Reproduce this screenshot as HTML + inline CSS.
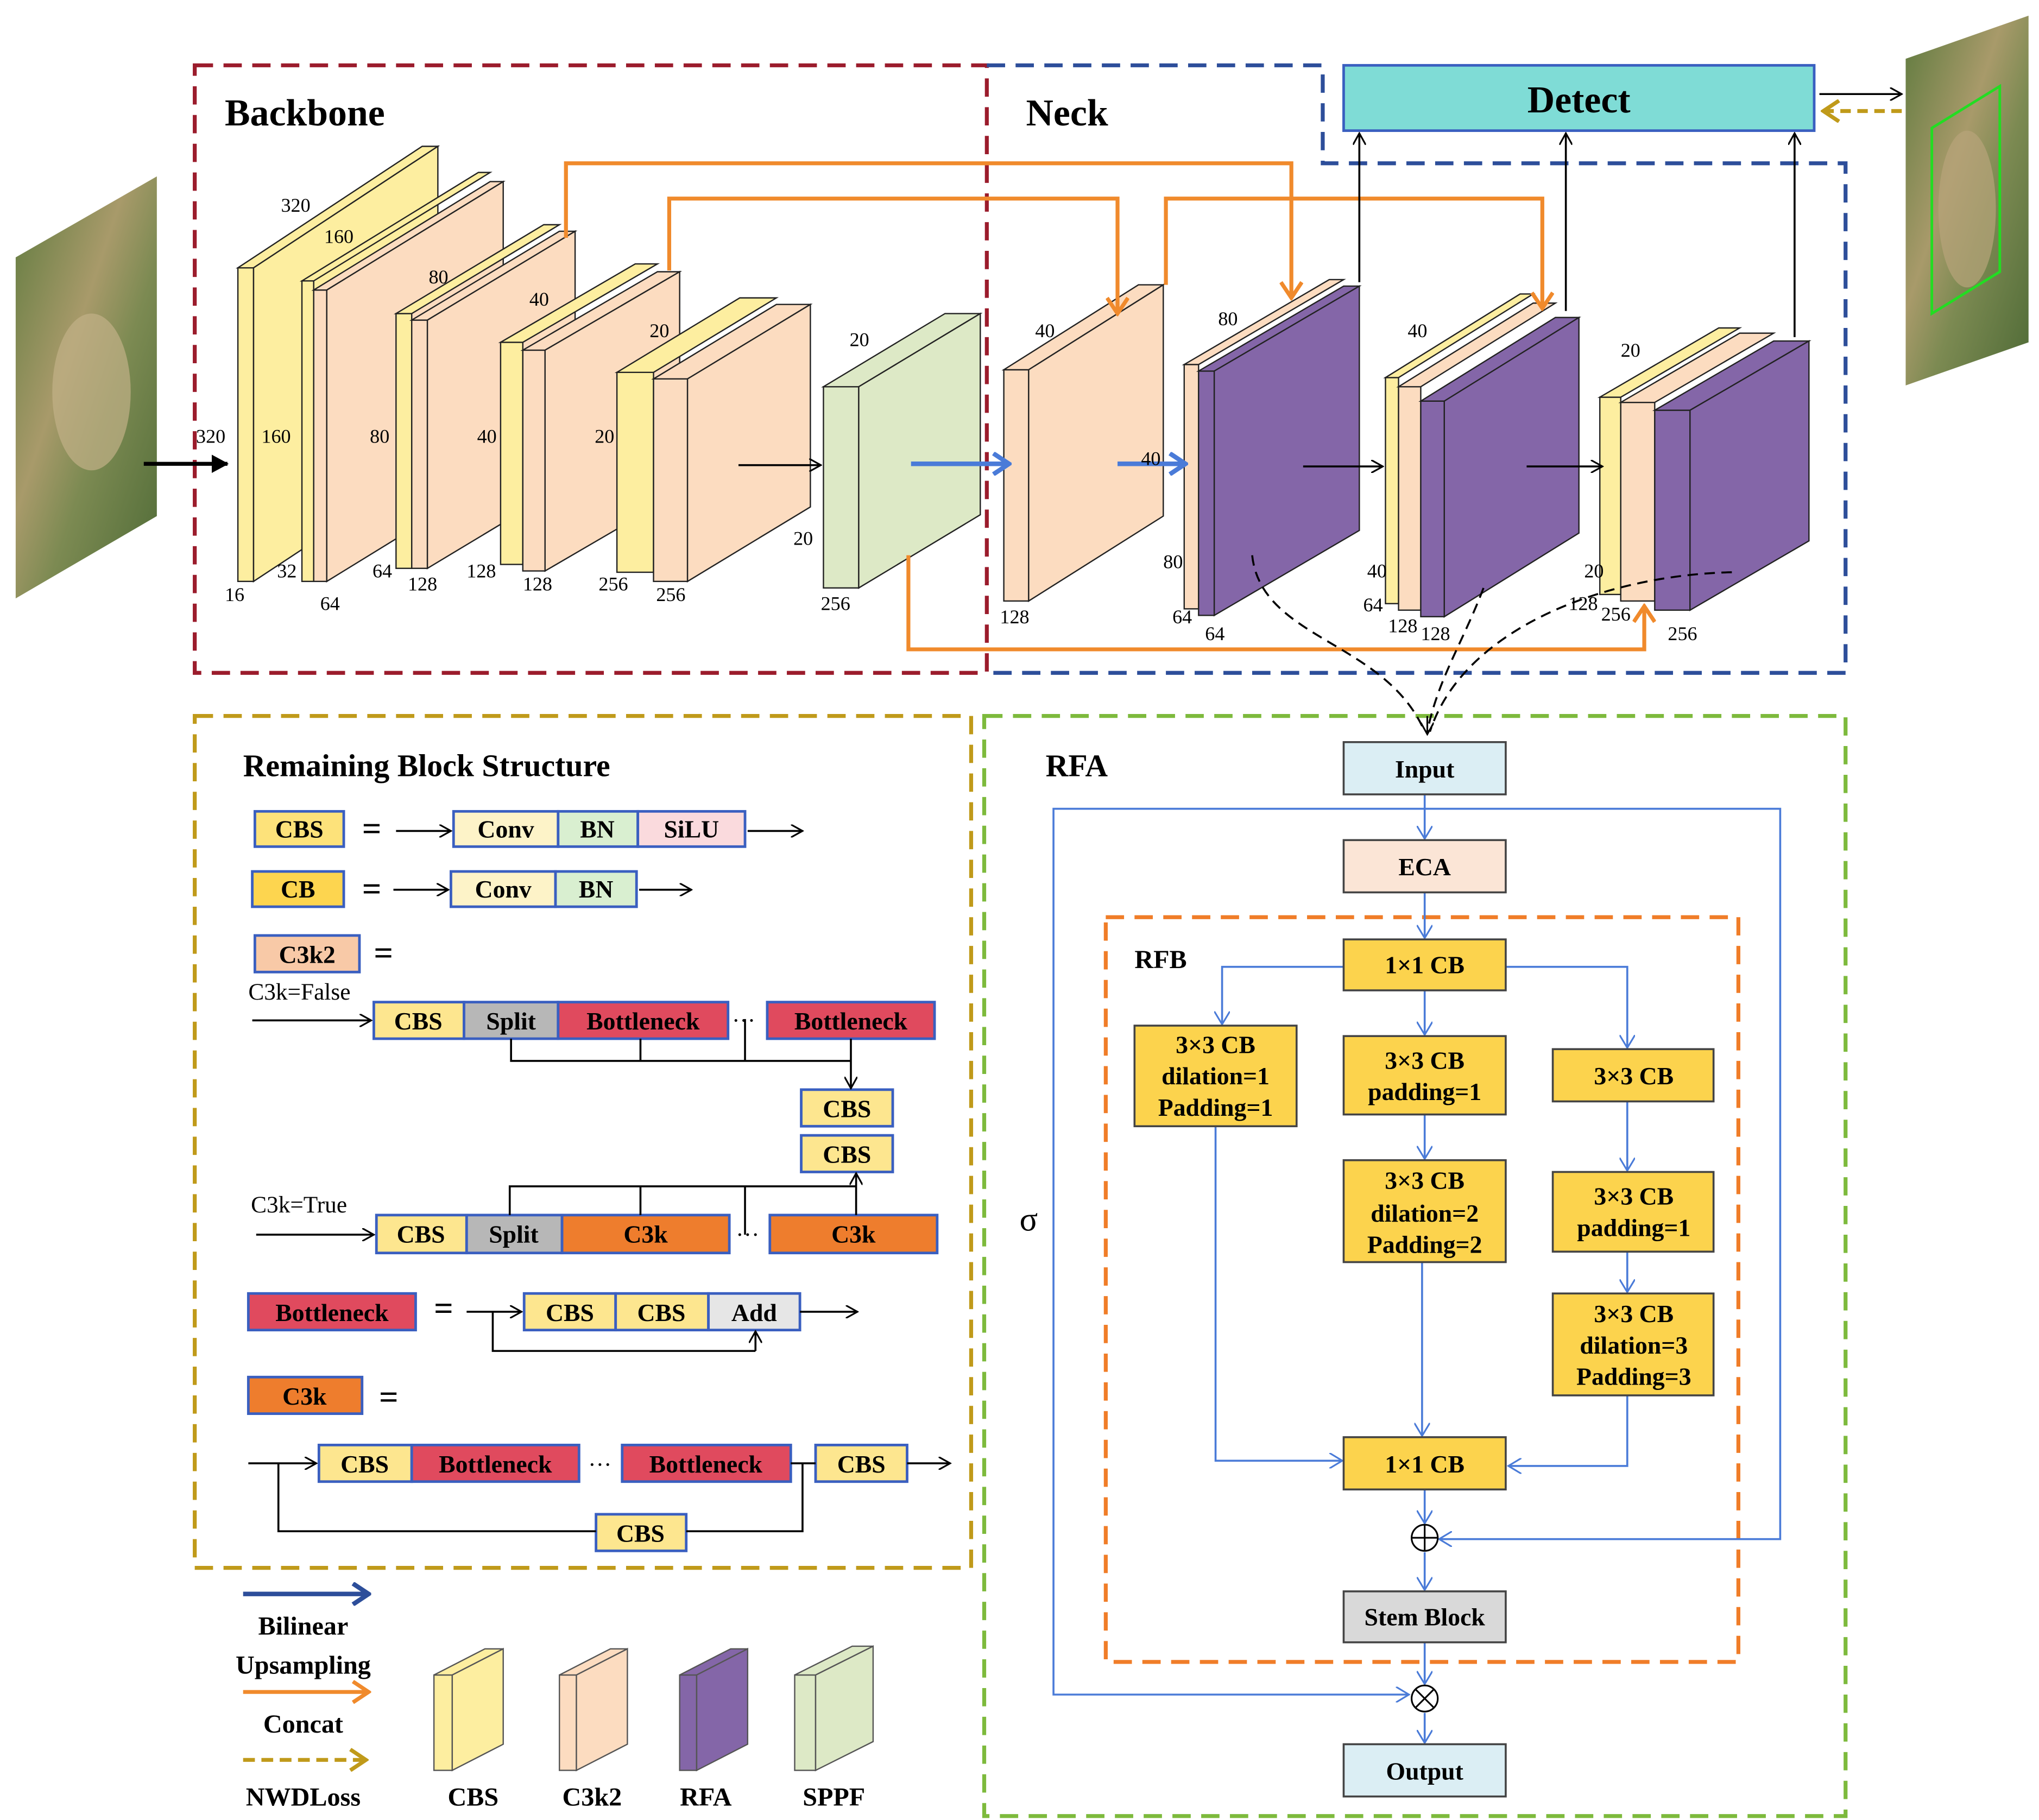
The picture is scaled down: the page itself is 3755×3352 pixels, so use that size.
<!DOCTYPE html>
<html><head><meta charset="utf-8"><style>
html,body{margin:0;padding:0;background:#fff;}
svg{display:block;}
text{font-family:"Liberation Serif",serif;}
.b{font-weight:bold;}
</style></head><body>
<svg width="3755" height="3352" viewBox="0 0 1560 1393" preserveAspectRatio="none" xmlns="http://www.w3.org/2000/svg">
<defs>
<marker id="ak" markerWidth="10" markerHeight="10" refX="9" refY="5" orient="auto" markerUnits="userSpaceOnUse"><path d="M0,0 L9,5 L0,10" fill="none" stroke="#000" stroke-width="1.3"/></marker>
<marker id="akb" markerWidth="14" markerHeight="14" refX="12" refY="7" orient="auto" markerUnits="userSpaceOnUse"><path d="M0,0 L13,7 L0,14 Z" fill="#000"/></marker>
<marker id="ab" markerWidth="12" markerHeight="12" refX="10" refY="6" orient="auto" markerUnits="userSpaceOnUse"><path d="M0,0 L10,6 L0,12" fill="none" stroke="#4a7bd8" stroke-width="1.3"/></marker>
<marker id="abb" markerWidth="16" markerHeight="18" refX="14" refY="9" orient="auto" markerUnits="userSpaceOnUse"><path d="M2,1 L14,9 L2,17" fill="none" stroke="#4a7bd8" stroke-width="3.5"/></marker>
<marker id="ao" markerWidth="16" markerHeight="18" refX="14" refY="9" orient="auto" markerUnits="userSpaceOnUse"><path d="M2,1 L14,9 L2,17" fill="none" stroke="#f08a2c" stroke-width="3"/></marker>
<marker id="adb" markerWidth="16" markerHeight="18" refX="14" refY="9" orient="auto" markerUnits="userSpaceOnUse"><path d="M2,1 L14,9 L2,17" fill="none" stroke="#2d4e9a" stroke-width="3.5"/></marker>
<marker id="ag" markerWidth="16" markerHeight="18" refX="14" refY="9" orient="auto" markerUnits="userSpaceOnUse"><path d="M2,1 L14,9 L2,17" fill="none" stroke="#c09a1a" stroke-width="3"/></marker>
<linearGradient id="sat" x1="0" y1="0" x2="1" y2="1">
<stop offset="0" stop-color="#5e7a3e"/><stop offset="0.4" stop-color="#a89a6a"/><stop offset="0.6" stop-color="#7c8a52"/><stop offset="1" stop-color="#4e6a36"/></linearGradient>
</defs>

<!-- satellite images -->
<polygon points="12,197 120,135 120,395 12,458" fill="url(#sat)"/>
<ellipse cx="70" cy="300" rx="30" ry="60" fill="#c2b088" opacity="0.7"/>
<polygon points="1458,45 1552,12 1552,262 1458,295" fill="url(#sat)"/>
<ellipse cx="1505" cy="160" rx="22" ry="60" fill="#b8a47a" opacity="0.7"/>
<polygon points="1478,98 1530,66 1530,208 1478,240" fill="none" stroke="#22dd22" stroke-width="2"/>

<!-- frames -->
<rect x="149" y="50" width="606" height="465" fill="none" stroke="#9b1c2c" stroke-width="3" stroke-dasharray="14,8"/>
<path d="M755,50 L1012,50 L1012,125 L1412,125 L1412,515 L755,515" fill="none" stroke="#2d4e9a" stroke-width="3" stroke-dasharray="14,8"/>
<rect x="149" y="548" width="594" height="652" fill="none" stroke="#c09a1a" stroke-width="3" stroke-dasharray="14,8"/>
<rect x="753" y="548" width="659" height="842" fill="none" stroke="#7dba3c" stroke-width="3" stroke-dasharray="14,8"/>
<rect x="846" y="702" width="484" height="570" fill="none" stroke="#f07d28" stroke-width="3" stroke-dasharray="14,8"/>

<text x="172" y="96" class="b" font-size="29">Backbone</text>
<text x="785" y="96" class="b" font-size="29">Neck</text>
<rect x="1028" y="50" width="360" height="50" fill="#7fdcd6" stroke="#3a5fc0" stroke-width="2"/>
<text x="1208" y="86" class="b" font-size="29" text-anchor="middle">Detect</text>
<line x1="1392" y1="72" x2="1455" y2="72" stroke="#000" stroke-width="1.5" marker-end="url(#ak)"/>
<line x1="1455" y1="85" x2="1395" y2="85" stroke="#c09a1a" stroke-width="3" stroke-dasharray="8,5" marker-end="url(#ag)"/>

<g stroke="#222" stroke-width="1">
<!-- block1 -->
<rect x="182" y="205" width="12" height="240" fill="#fdeea0"/>
<polygon points="182,205 323,112 335,112 194,205" fill="#fdeea0"/>
<polygon points="194,205 335,112 335,352 194,445" fill="#fdeea0"/>
<!-- block2 -->
<rect x="231" y="215" width="9" height="230" fill="#fdeea0"/>
<polygon points="231,215 366,132 375,132 240,215" fill="#fdeea0"/>
<rect x="240" y="222" width="10" height="223" fill="#fcdcc0"/>
<polygon points="240,222 375,139 385,139 250,222" fill="#fcdcc0"/>
<polygon points="250,222 385,139 385,362 250,445" fill="#fcdcc0"/>
<!-- block3 -->
<rect x="303" y="240" width="12" height="195" fill="#fdeea0"/>
<polygon points="303,240 416,172 428,172 315,240" fill="#fdeea0"/>
<rect x="315" y="245" width="12" height="190" fill="#fcdcc0"/>
<polygon points="315,245 428,177 440,177 327,245" fill="#fcdcc0"/>
<polygon points="327,245 440,177 440,367 327,435" fill="#fcdcc0"/>
<!-- block4 -->
<rect x="383" y="262" width="17" height="170" fill="#fdeea0"/>
<polygon points="383,262 486,202 503,202 400,262" fill="#fdeea0"/>
<rect x="400" y="268" width="17" height="169" fill="#fcdcc0"/>
<polygon points="400,268 503,208 520,208 417,268" fill="#fcdcc0"/>
<polygon points="417,268 520,208 520,377 417,437" fill="#fcdcc0"/>
<!-- block5 -->
<rect x="472" y="285" width="28" height="153" fill="#fdeea0"/>
<polygon points="472,285 566,228 594,228 500,285" fill="#fdeea0"/>
<rect x="500" y="290" width="26" height="155" fill="#fcdcc0"/>
<polygon points="500,290 594,233 620,233 526,290" fill="#fcdcc0"/>
<polygon points="526,290 620,233 620,388 526,445" fill="#fcdcc0"/>
<!-- SPPF -->
<rect x="630" y="296" width="27" height="154" fill="#dde9c6"/>
<polygon points="630,296 723,240 750,240 657,296" fill="#dde9c6"/>
<polygon points="657,296 750,240 750,394 657,450" fill="#dde9c6"/>
<!-- neck1 -->
<rect x="768" y="283" width="19" height="177" fill="#fcdcc0"/>
<polygon points="768,283 871,218 890,218 787,283" fill="#fcdcc0"/>
<polygon points="787,283 890,218 890,395 787,460" fill="#fcdcc0"/>
<!-- neck2 -->
<rect x="906" y="279" width="11" height="187" fill="#fcdcc0"/>
<polygon points="906,279 1017,214 1028,214 917,279" fill="#fcdcc0"/>
<rect x="917" y="284" width="12" height="187" fill="#8466a8"/>
<polygon points="917,284 1028,219 1040,219 929,284" fill="#8466a8"/>
<polygon points="929,284 1040,219 1040,406 929,471" fill="#8466a8"/>
<!-- neck3 -->
<rect x="1060" y="289" width="10" height="173" fill="#fdeea0"/>
<polygon points="1060,289 1163,225 1173,225 1070,289" fill="#fdeea0"/>
<rect x="1070" y="296" width="17" height="171" fill="#fcdcc0"/>
<polygon points="1070,296 1173,232 1190,232 1087,296" fill="#fcdcc0"/>
<rect x="1087" y="307" width="18" height="165" fill="#8466a8"/>
<polygon points="1087,307 1190,243 1208,243 1105,307" fill="#8466a8"/>
<polygon points="1105,307 1208,243 1208,408 1105,472" fill="#8466a8"/>
<!-- neck4 -->
<rect x="1224" y="304" width="16" height="151" fill="#fdeea0"/>
<polygon points="1224,304 1315,251 1331,251 1240,304" fill="#fdeea0"/>
<rect x="1240" y="308" width="26" height="152" fill="#fcdcc0"/>
<polygon points="1240,308 1331,255 1357,255 1266,308" fill="#fcdcc0"/>
<rect x="1266" y="314" width="27" height="153" fill="#8466a8"/>
<polygon points="1266,314 1357,261 1384,261 1293,314" fill="#8466a8"/>
<polygon points="1293,314 1384,261 1384,414 1293,467" fill="#8466a8"/>
</g>

<!-- concat orange -->
<g fill="none" stroke="#f08a2c" stroke-width="3">
<path d="M433,182 L433,125 L988,125 L988,228" marker-end="url(#ao)"/>
<path d="M512,207 L512,152 L855,152 L855,240" marker-end="url(#ao)"/>
<path d="M892,218 L892,152 L1180,152 L1180,236" marker-end="url(#ao)"/>
<path d="M695,425 L695,497 L1258,497 L1258,464" marker-end="url(#ao)"/>
</g>
<!-- arrows -->
<line x1="110" y1="355" x2="174" y2="355" stroke="#000" stroke-width="3" marker-end="url(#akb)"/>
<line x1="565" y1="356" x2="628" y2="356" stroke="#000" stroke-width="1.5" marker-end="url(#ak)"/>
<line x1="997" y1="357" x2="1058" y2="357" stroke="#000" stroke-width="1.5" marker-end="url(#ak)"/>
<line x1="1168" y1="357" x2="1226" y2="357" stroke="#000" stroke-width="1.5" marker-end="url(#ak)"/>
<line x1="697" y1="355" x2="772" y2="355" stroke="#4a7bd8" stroke-width="3.5" marker-end="url(#abb)"/>
<line x1="855" y1="355" x2="907" y2="355" stroke="#4a7bd8" stroke-width="3.5" marker-end="url(#abb)"/>
<line x1="1040" y1="216" x2="1040" y2="102" stroke="#000" stroke-width="1.5" marker-end="url(#ak)"/>
<line x1="1198" y1="238" x2="1198" y2="102" stroke="#000" stroke-width="1.5" marker-end="url(#ak)"/>
<line x1="1373" y1="258" x2="1373" y2="102" stroke="#000" stroke-width="1.5" marker-end="url(#ak)"/>
<!-- dashed curves -->
<g fill="none" stroke="#000" stroke-width="1.5" stroke-dasharray="8,5">
<path d="M958,425 C965,490 1060,490 1090,560"/>
<path d="M1135,450 C1120,490 1100,520 1092,560"/>
<path d="M1325,438 C1230,440 1120,480 1094,560"/>
</g>
<line x1="1092" y1="548" x2="1092" y2="562" stroke="#000" stroke-width="1.3" marker-end="url(#ak)"/>

<!-- dims -->
<g font-size="15">
<text x="215" y="162">320</text><text x="248" y="186">160</text><text x="328" y="217">80</text><text x="405" y="234">40</text><text x="497" y="258">20</text><text x="650" y="265">20</text><text x="792" y="258">40</text><text x="932" y="249">80</text><text x="1077" y="258">40</text><text x="1240" y="273">20</text>
<text x="150" y="339">320</text><text x="200" y="339">160</text><text x="283" y="339">80</text><text x="365" y="339">40</text><text x="455" y="339">20</text><text x="607" y="417">20</text><text x="873" y="356">40</text><text x="890" y="435">80</text><text x="1046" y="442">40</text><text x="1212" y="442">20</text>
<text x="172" y="460">16</text><text x="212" y="442">32</text><text x="245" y="467">64</text><text x="285" y="442">64</text><text x="312" y="452">128</text><text x="357" y="442">128</text><text x="400" y="452">128</text><text x="458" y="452">256</text><text x="502" y="460">256</text><text x="628" y="467">256</text><text x="765" y="477">128</text><text x="897" y="477">64</text><text x="922" y="490">64</text><text x="1043" y="468">64</text><text x="1062" y="484">128</text><text x="1087" y="490">128</text><text x="1200" y="467">128</text><text x="1225" y="475">256</text><text x="1276" y="490">256</text>
</g>

<!-- Remaining block structure -->
<text x="186" y="594" class="b" font-size="24">Remaining Block Structure</text>
<g stroke="#3a5fc0" stroke-width="2">
<rect x="195" y="621" width="68" height="27" fill="#fde27a"/>
<rect x="347" y="621" width="80" height="27" fill="#fdf3c8"/><rect x="427" y="621" width="61" height="27" fill="#d9efd0"/><rect x="488" y="621" width="82" height="27" fill="#fadadd"/>
<rect x="193" y="667" width="70" height="27" fill="#fdd54f"/>
<rect x="345" y="667" width="80" height="27" fill="#fdf3c8"/><rect x="425" y="667" width="62" height="27" fill="#d9efd0"/>
<rect x="195" y="716" width="80" height="28" fill="#f8c9a7"/>
<rect x="286" y="767" width="69" height="28" fill="#fde68f"/><rect x="355" y="767" width="72" height="28" fill="#b7b7b7"/><rect x="427" y="767" width="130" height="28" fill="#e04a5e"/><rect x="587" y="767" width="128" height="28" fill="#e04a5e"/>
<rect x="613" y="834" width="70" height="28" fill="#fde68f"/><rect x="613" y="869" width="70" height="28" fill="#fde68f"/>
<rect x="288" y="930" width="69" height="29" fill="#fde68f"/><rect x="357" y="930" width="73" height="29" fill="#b7b7b7"/><rect x="430" y="930" width="128" height="29" fill="#ee7d2d"/><rect x="589" y="930" width="128" height="29" fill="#ee7d2d"/>
<rect x="190" y="990" width="128" height="28" fill="#e04a5e"/>
<rect x="401" y="990" width="70" height="28" fill="#fde68f"/><rect x="471" y="990" width="71" height="28" fill="#fde68f"/><rect x="542" y="990" width="70" height="28" fill="#e6e6e6"/>
<rect x="190" y="1054" width="87" height="28" fill="#ee7d2d"/>
<rect x="244" y="1106" width="71" height="28" fill="#fde68f"/><rect x="315" y="1106" width="128" height="28" fill="#e04a5e"/><rect x="476" y="1106" width="129" height="28" fill="#e04a5e"/><rect x="624" y="1106" width="70" height="28" fill="#fde68f"/>
<rect x="456" y="1159" width="69" height="28" fill="#fde68f"/>
</g>
<g class="b" font-size="19" font-weight="bold" text-anchor="middle">
<text x="229" y="641">CBS</text><text x="387" y="641">Conv</text><text x="457" y="641">BN</text><text x="529" y="641">SiLU</text>
<text x="228" y="687">CB</text><text x="385" y="687">Conv</text><text x="456" y="687">BN</text>
<text x="235" y="737">C3k2</text>
<text x="320" y="788">CBS</text><text x="391" y="788">Split</text><text x="492" y="788">Bottleneck</text><text x="651" y="788">Bottleneck</text>
<text x="648" y="855">CBS</text><text x="648" y="890">CBS</text>
<text x="322" y="951">CBS</text><text x="393" y="951">Split</text><text x="494" y="951">C3k</text><text x="653" y="951">C3k</text>
<text x="254" y="1011">Bottleneck</text><text x="436" y="1011">CBS</text><text x="506" y="1011">CBS</text><text x="577" y="1011">Add</text>
<text x="233" y="1075">C3k</text>
<text x="279" y="1127">CBS</text><text x="379" y="1127">Bottleneck</text><text x="540" y="1127">Bottleneck</text><text x="659" y="1127">CBS</text>
<text x="490" y="1180">CBS</text>
</g>
<g font-size="26" class="b"><text x="277" y="643">=</text><text x="277" y="689">=</text><text x="286" y="738">=</text><text x="332" y="1010">=</text><text x="290" y="1078">=</text></g>
<text x="190" y="765" font-size="18">C3k=False</text>
<text x="192" y="928" font-size="18">C3k=True</text>
<g font-size="18"><text x="560" y="787">···</text><text x="563" y="951">···</text><text x="450" y="1127">···</text></g>
<g fill="none" stroke="#000" stroke-width="1.5">
<line x1="303" y1="636" x2="345" y2="636" marker-end="url(#ak)"/><line x1="572" y1="636" x2="614" y2="636" marker-end="url(#ak)"/>
<line x1="301" y1="681" x2="343" y2="681" marker-end="url(#ak)"/><line x1="489" y1="681" x2="529" y2="681" marker-end="url(#ak)"/>
<line x1="193" y1="781" x2="284" y2="781" marker-end="url(#ak)"/>
<path d="M391,795 V812 H651"/><path d="M490,795 V812"/><path d="M570,780 V812"/>
<line x1="651" y1="795" x2="651" y2="833" marker-end="url(#ak)"/>
<line x1="196" y1="945" x2="286" y2="945" marker-end="url(#ak)"/>
<path d="M390,930 V908 H655"/><path d="M490,930 V908"/><path d="M570,945 V908"/>
<line x1="655" y1="930" x2="655" y2="898" marker-end="url(#ak)"/>
<line x1="357" y1="1004" x2="399" y2="1004" marker-end="url(#ak)"/><line x1="612" y1="1004" x2="656" y2="1004" marker-end="url(#ak)"/>
<path d="M377,1004 V1034 H578"/><line x1="578" y1="1034" x2="578" y2="1019" marker-end="url(#ak)"/>
<line x1="190" y1="1120" x2="242" y2="1120" marker-end="url(#ak)"/><line x1="605" y1="1120" x2="624" y2="1120"/><line x1="694" y1="1120" x2="727" y2="1120" marker-end="url(#ak)"/>
<path d="M213,1120 V1172 H456"/><path d="M525,1172 H614 V1120"/>
</g>

<!-- legend -->
<line x1="186" y1="1220" x2="282" y2="1220" stroke="#2d4e9a" stroke-width="3.5" marker-end="url(#adb)"/>
<line x1="186" y1="1295" x2="282" y2="1295" stroke="#f08a2c" stroke-width="3" marker-end="url(#ao)"/>
<line x1="186" y1="1347" x2="280" y2="1347" stroke="#c09a1a" stroke-width="3" stroke-dasharray="9,5" marker-end="url(#ag)"/>
<g class="b" font-size="20" text-anchor="middle">
<text x="232" y="1251">Bilinear</text><text x="232" y="1281">Upsampling</text><text x="232" y="1326">Concat</text><text x="232" y="1382">NWDLoss</text>
<text x="362" y="1382">CBS</text><text x="453" y="1382">C3k2</text><text x="540" y="1382">RFA</text><text x="638" y="1382">SPPF</text>
</g>
<g stroke="#555" stroke-width="1">
<rect x="332" y="1282" width="14" height="73" fill="#fdeea0"/><polygon points="332,1282 371,1262 385,1262 346,1282" fill="#fdeea0"/><polygon points="346,1282 385,1262 385,1335 346,1355" fill="#fdeea0"/>
<rect x="428" y="1282" width="13" height="73" fill="#fcdcc0"/><polygon points="428,1282 467,1262 480,1262 441,1282" fill="#fcdcc0"/><polygon points="441,1282 480,1262 480,1335 441,1355" fill="#fcdcc0"/>
<rect x="520" y="1282" width="13" height="73" fill="#8466a8"/><polygon points="520,1282 559,1262 572,1262 533,1282" fill="#8466a8"/><polygon points="533,1282 572,1262 572,1335 533,1355" fill="#8466a8"/>
<rect x="608" y="1282" width="16" height="73" fill="#dde9c6"/><polygon points="608,1282 652,1260 668,1260 624,1282" fill="#dde9c6"/><polygon points="624,1282 668,1260 668,1333 624,1355" fill="#dde9c6"/>
</g>

<!-- RFA -->
<text x="800" y="594" class="b" font-size="24">RFA</text>
<text x="780" y="942" font-size="26">σ</text>
<text x="868" y="741" class="b" font-size="20">RFB</text>
<g fill="none" stroke="#4a7bd8" stroke-width="1.5">
<line x1="1090" y1="608" x2="1090" y2="642" marker-end="url(#ab)"/>
<path d="M1090,619 H806 V1297 H1078" marker-end="url(#ab)"/>
<path d="M1090,619 H1362 V1178 H1101" marker-end="url(#ab)"/>
<line x1="1090" y1="683" x2="1090" y2="718" marker-end="url(#ab)"/>
<path d="M1028,740 H935 V784" marker-end="url(#ab)"/>
<path d="M1152,740 H1245 V802" marker-end="url(#ab)"/>
<line x1="1090" y1="758" x2="1090" y2="792" marker-end="url(#ab)"/>
<line x1="1090" y1="853" x2="1090" y2="887" marker-end="url(#ab)"/>
<line x1="1088" y1="966" x2="1088" y2="1099" marker-end="url(#ab)"/>
<line x1="1245" y1="843" x2="1245" y2="896" marker-end="url(#ab)"/>
<line x1="1245" y1="958" x2="1245" y2="989" marker-end="url(#ab)"/>
<path d="M1245,1068 V1122 H1154" marker-end="url(#ab)"/>
<path d="M930,862 V1118 H1027" marker-end="url(#ab)"/>
<line x1="1090" y1="1140" x2="1090" y2="1166" marker-end="url(#ab)"/>
<line x1="1090" y1="1188" x2="1090" y2="1217" marker-end="url(#ab)"/>
<line x1="1090" y1="1257" x2="1090" y2="1289" marker-end="url(#ab)"/>
<line x1="1090" y1="1311" x2="1090" y2="1334" marker-end="url(#ab)"/>
</g>
<g stroke="#000" stroke-width="1.3" fill="#fff">
<circle cx="1090" cy="1177" r="10"/><line x1="1080" y1="1177" x2="1100" y2="1177"/><line x1="1090" y1="1167" x2="1090" y2="1187"/>
<circle cx="1090" cy="1300" r="10"/><line x1="1083" y1="1293" x2="1097" y2="1307"/><line x1="1097" y1="1293" x2="1083" y2="1307"/>
</g>
<g stroke="#444" stroke-width="1.5">
<rect x="1028" y="568" width="124" height="40" fill="#dbeef4"/>
<rect x="1028" y="643" width="124" height="40" fill="#fbe5d6"/>
<rect x="1028" y="719" width="124" height="39" fill="#fcd34d"/>
<rect x="868" y="785" width="124" height="77" fill="#fcd34d"/>
<rect x="1028" y="793" width="124" height="60" fill="#fcd34d"/>
<rect x="1188" y="803" width="123" height="40" fill="#fcd34d"/>
<rect x="1028" y="888" width="124" height="78" fill="#fcd34d"/>
<rect x="1188" y="897" width="123" height="61" fill="#fcd34d"/>
<rect x="1188" y="990" width="123" height="78" fill="#fcd34d"/>
<rect x="1028" y="1100" width="124" height="40" fill="#fcd34d"/>
<rect x="1028" y="1218" width="124" height="39" fill="#d9d9d9"/>
<rect x="1028" y="1335" width="124" height="40" fill="#dbeef4"/>
</g>
<g class="b" font-size="19" text-anchor="middle">
<text x="1090" y="595">Input</text>
<text x="1090" y="670">ECA</text>
<text x="1090" y="745">1×1 CB</text>
<text x="930" y="806">3×3 CB</text><text x="930" y="830">dilation=1</text><text x="930" y="854">Padding=1</text>
<text x="1090" y="818">3×3 CB</text><text x="1090" y="842">padding=1</text>
<text x="1250" y="830">3×3 CB</text>
<text x="1090" y="910">3×3 CB</text><text x="1090" y="935">dilation=2</text><text x="1090" y="959">Padding=2</text>
<text x="1250" y="922">3×3 CB</text><text x="1250" y="946">padding=1</text>
<text x="1250" y="1012">3×3 CB</text><text x="1250" y="1036">dilation=3</text><text x="1250" y="1060">Padding=3</text>
<text x="1090" y="1127">1×1 CB</text>
<text x="1090" y="1244">Stem Block</text>
<text x="1090" y="1362">Output</text>
</g>
</svg>
</body></html>
